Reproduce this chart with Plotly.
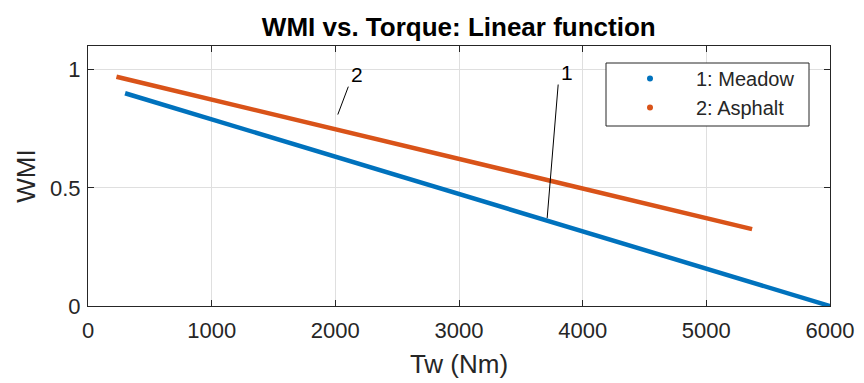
import plotly.graph_objects as go

# Data
tw_meadow = [300, 6000]
wmi_meadow = [0.90, 0.0]
tw_asphalt = [230, 5370]
wmi_asphalt = [0.97, 0.325]
series_names = ["1: Meadow", "2: Asphalt"]
x_ticks = [0, 1000, 2000, 3000, 4000, 5000, 6000]
y_ticks = [0, 0.5, 1]
y_tick_labels = ["0", "0.5", "1"]

BLUE = "#0072BD"
ORANGE = "#D95319"
DARK = "#262626"
FONT = "Liberation Sans, Arial, sans-serif"

fig = go.Figure()
for xs, ys, col, name in [(tw_meadow, wmi_meadow, BLUE, series_names[0]),
                          (tw_asphalt, wmi_asphalt, ORANGE, series_names[1])]:
    fig.add_trace(go.Scatter(x=xs, y=ys, mode="lines",
                             line=dict(color=col, width=4.5),
                             showlegend=False, hoverinfo="skip"))
for col, name in [(BLUE, series_names[0]), (ORANGE, series_names[1])]:
    fig.add_trace(go.Scatter(x=[None], y=[None], mode="markers", name=name,
                             marker=dict(color=col, size=6), legendgroup=name))

# clabel-style annotation leader lines
fig.add_shape(type="line", x0=2105, y0=0.928, x1=2020, y1=0.81,
              xref="x", yref="y", line=dict(color="black", width=1))
fig.add_shape(type="line", x0=3802, y0=0.937, x1=3713, y1=0.372,
              xref="x", yref="y", line=dict(color="black", width=1))
fig.add_annotation(x=2178, y=0.979, text="2", showarrow=False, xref="x", yref="y",
                   font=dict(size=21, color="black", family=FONT))
fig.add_annotation(x=3875, y=0.988, text="1", showarrow=False, xref="x", yref="y",
                   font=dict(size=21, color="black", family=FONT))

# legend box (MATLAB style)
PW, PH = 742.0, 260.0
def px_x(p):
    return (p - 88) / PW
def px_y(p):
    return (306 - p) / PH
fig.add_shape(type="rect", xref="paper", yref="paper",
              x0=px_x(606), x1=px_x(809), y0=px_y(126), y1=px_y(63),
              line=dict(color=DARK, width=1), fillcolor="white", layer="above")

axis_common = dict(showline=True, linecolor=DARK, linewidth=1, mirror="ticks",
                   ticks="inside", ticklen=6, tickcolor=DARK, automargin=False,
                   showgrid=True, gridcolor="#dfdfdf", gridwidth=1,
                   zeroline=False, tickfont=dict(size=22, color=DARK, family=FONT))

fig.update_xaxes(range=[0, 6000], tickvals=x_ticks, ticklabelstandoff=5, **axis_common,
                 title=dict(text="Tw (Nm)", font=dict(size=26, color=DARK, family=FONT),
                            standoff=12))
fig.update_yaxes(range=[0, 1.1], tickvals=y_ticks, ticktext=y_tick_labels,
                 ticklabelstandoff=2, **axis_common,
                 title=dict(text="WMI", font=dict(size=26, color=DARK, family=FONT),
                            standoff=6))

fig.update_layout(
    width=864, height=383,
    margin=dict(l=88, r=34, t=46, b=77, autoexpand=False),
    paper_bgcolor="white", plot_bgcolor="white",
    font=dict(family=FONT, color=DARK),
    title=dict(text="<b>WMI vs. Torque: Linear function</b>", x=0.531, xanchor="center",
               y=0.93, yanchor="middle", font=dict(size=26, color="black", family=FONT)),
    showlegend=True,
    legend=dict(x=px_x(604), xanchor="left", y=px_y(59), yanchor="top",
                bgcolor="rgba(0,0,0,0)", borderwidth=0,
                font=dict(size=20, color=DARK, family=FONT),
                itemwidth=82, tracegroupgap=0, traceorder="grouped"),
)

fig.write_html("out.html")
